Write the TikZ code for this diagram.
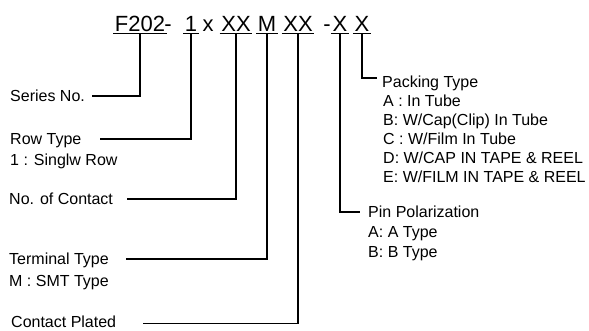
\documentclass[tikz,border=0pt]{standalone}
\usepackage{fontspec}
\setmainfont{Liberation Sans}
\usetikzlibrary{positioning}

\tikzset{
  seg/.style={font=\fontsize{22}{24}\selectfont, inner xsep=1.5pt, inner ysep=0pt,
              anchor=base, text depth=1.5pt},
  lbl/.style={font=\fontsize{16}{19}\selectfont, inner sep=0pt,
              text height=11.5pt, text depth=0pt, anchor=west},
  lead/.style={line width=1.2pt},
}

\begin{document}
\begin{tikzpicture}[x=1pt,y=-1pt]
  \useasboundingbox (0,0) rectangle (589,331);
  % part number
  \node[seg] (ser) at (140,32) {F202};
  \node[seg] (d1)  at (168,32) {-};
  \node[seg] (row) at (191,32) {1};
  \node[seg] (tms) at (208,32) {x};
  \node[seg] (con) at (236,32) {XX};
  \node[seg] (ter) at (267,32) {M};
  \node[seg] (pla) at (298,32) {XX};
  \node[seg] (d2)  at (327,32) {-};
  \node[seg] (pin) at (340,32) {X};
  \node[seg] (pck) at (362,32) {X};
  \foreach \s in {ser,row,con,ter,pla,pin,pck}
    \draw[line width=1pt] (\s.south west) -- (\s.south east);
  % left labels
  \node[lbl] (serl) at (10,96)  {Series No.};
  \node[lbl] (rowl) at (10,139) {Row Type};
  \node[lbl] (rowo) at (10,160) {1 : Singlw Row};
  \node[lbl] (conl) at (9,199)  {No. of Contact};
  \node[lbl] (terl) at (9,259)  {Terminal Type};
  \node[lbl] (tero) at (9,281)  {M : SMT Type};
  \node[lbl] (plal) at (11,321.5) {Contact Plated};
  % right labels
  \node[lbl] (pckl) at (382,82) {Packing Type};
  \foreach \t [count=\i] in {A : In Tube, B: W/Cap(Clip) In Tube, C : W/Film In Tube,
                             D: W/CAP IN TAPE \& REEL, E: W/FILM IN TAPE \& REEL}
    \node[lbl] (pck\i) at (383,{82+19*\i}) {\t};
  \node[lbl] (pinl) at (368,212) {Pin Polarization};
  \node[lbl] (pin1) at (368,232) {A: A Type};
  \node[lbl] (pin2) at (368,252) {B: B Type};
  % leaders
  \draw[lead] (ser.south) |- ([xshift=7pt]serl.east);
  \draw[lead] (row.south) |- ([xshift=18pt]rowl.east);
  \draw[lead] (con.south) |- ([xshift=14pt]conl.east);
  \draw[lead] (ter.south) |- ([xshift=17pt]terl.east);
  \draw[lead] (pla.south) |- ([xshift=27pt,yshift=-2pt]plal.east);
  \draw[lead] (pin.south) |- ([xshift=-8pt]pinl.west);
  \draw[lead] (pck.south) |- ([xshift=-5pt,yshift=4pt]pckl.west);
\end{tikzpicture}
\end{document}
